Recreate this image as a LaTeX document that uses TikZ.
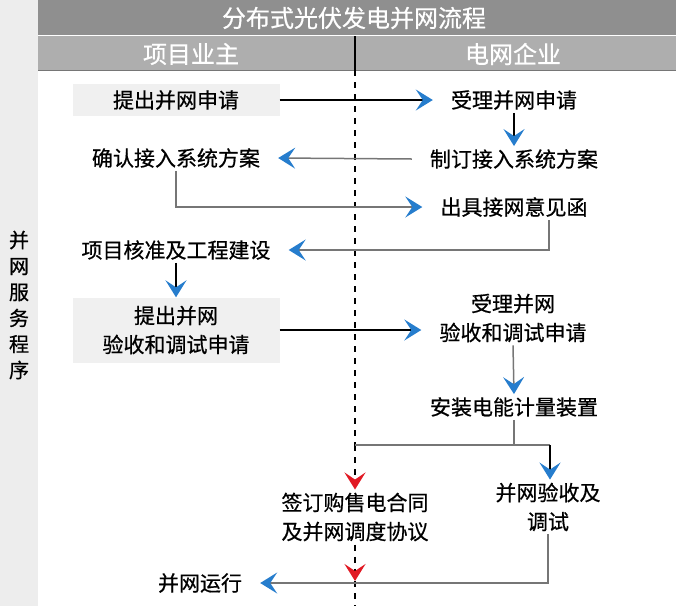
\documentclass[tikz,border=0pt]{standalone}
\usepackage{fontspec}
\setmainfont{Noto Sans CJK SC}[FakeBold=0.6]
\usetikzlibrary{arrows.meta,calc}
\definecolor{headblue}{RGB}{38,125,205}
\definecolor{headred}{RGB}{225,25,35}
\definecolor{bargray}{RGB}{143,143,143}
\definecolor{subgray}{RGB}{174,174,174}
\definecolor{stripgray}{RGB}{237,237,237}
\definecolor{boxgray}{RGB}{240,240,240}
\definecolor{linegray}{RGB}{118,118,118}

\begin{document}
\begin{tikzpicture}[x=1pt,y=-1pt,
	stage/.style={inner xsep=18pt,inner ysep=3pt,align=center,font=\fontsize{21}{29}\selectfont},
	graybox/.style={stage,fill=boxgray,minimum width=207pt},
	flow/.style={line width=1.7pt,-{Stealth[length=17pt,width=21pt,inset=7pt,color=headblue]}},
	grayflow/.style={flow,draw=linegray,line width=1.5pt},
	grayline/.style={draw=linegray,line width=1.5pt},
	divider/.style={line width=2.8pt,dash pattern=on 6pt off 6pt},
	redflow/.style={divider,-{Stealth[length=17pt,width=21pt,inset=7pt,color=headred]}},
	header/.style={text=white,font=\fontsize{24}{28}\selectfont}]
					\useasboundingbox (0,0) rectangle (676,606);
					\fill[stripgray] (0,0) rectangle (38,606);
					\fill[bargray] (38,0) rectangle (676,35);
					\fill[subgray] (38,36) rectangle (676,70);
					\draw[linegray,line width=0.8pt] (38,70) -- (676,70);
					
					\node[header] (title) at (354,18) {分布式光伏发电并网流程};
					\node[header] (owner) at (191,54) {项目业主};
					\node[header] (grid) at (513,54) {电网企业};
					\node[align=center,font=\fontsize{20}{26}\selectfont] (side) at (19,305) {并\\网\\服\\务\\程\\序};
					
					\node[graybox,minimum height=32pt] (apply) at (176,100) {提出并网申请};
					\node[stage] (accept) at (514,100) {受理并网申请};
					\node[stage] (plan) at (514,159) {制订接入系统方案};
					\node[stage] (confirm) at (176,158) {确认接入系统方案};
					\node[stage] (opinion) at (514,207) {出具接网意见函};
					\node[stage] (build) at (176,250) {项目核准及工程建设};
					\node[graybox,minimum height=65pt] (apply2) at (176,330) {提出并网\\验收和调试申请};
					\node[stage] (accept2) at (513,318) {受理并网\\验收和调试申请};
					\node[stage] (meter) at (514,407) {安装电能计量装置};
					\node[stage] (contract) at (355,517) {签订购售电合同\\及并网调度协议};
					\node[stage] (check) at (548,507) {并网验收及\\调试};
					\node[stage] (run) at (200,583) {并网运行};
					
					\coordinate (splitleft) at (355,445);
					\coordinate (splitright) at (550,445);
					\coordinate (joinleft) at (355,581);
					
					\draw[line width=2pt] (355,36) -- (355,70);
					\draw[divider] (355,70) -- (splitleft);
					\draw[redflow] (splitleft) -- (contract.north);
					\draw[redflow] (contract.south) -- (joinleft);
					\draw[divider] (joinleft) -- (355,606);
					
					\draw[flow] (apply.east) -- (accept.west);
					\draw[flow] (accept.south) -- (plan.north);
					\draw[grayflow] (plan.west) -- (confirm.east);
					\draw[grayflow] (confirm.south) |- (opinion.west);
					\draw[grayflow] ($(opinion.south)+(35,0)$) |- (build.east);
					\draw[flow] (build.south) -- (apply2.north);
					\draw[flow] (apply2.east) -- (apply2.east -| accept2.west);
					\draw[grayflow] (accept2.south) -- (meter.north);
					\draw[grayline] (meter.south) -- (meter.south |- splitleft);
					\draw[grayline] (splitleft) -- (splitright);
					\draw[flow,line width=2.6pt] (splitright) -- (splitright |- check.north);
					\draw[grayflow] (check.south) |- (run.east);
				\end{tikzpicture}
\end{document}
